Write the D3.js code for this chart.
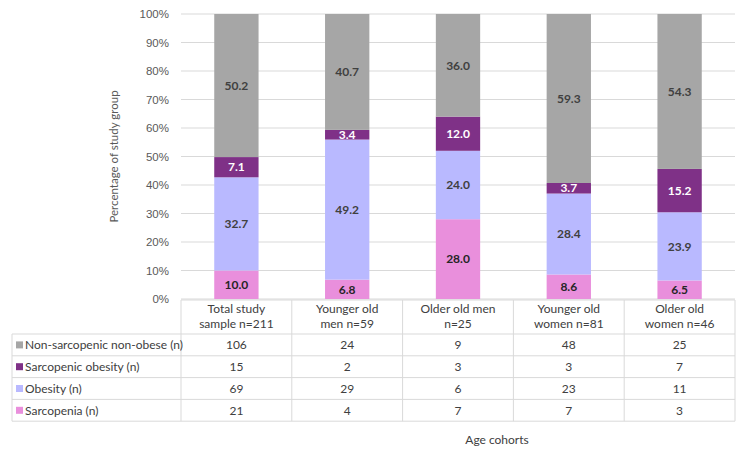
<!DOCTYPE html>
<html>
<head>
<meta charset="utf-8">
<script src="https://cdn.jsdelivr.net/npm/d3@7"></script>
<style>
  body { margin: 0; background: #fff; }
  svg { font-family: Lato, "Open Sans", sans-serif; }
  .grid line { stroke: #d9d9d9; }
  .tick-label { fill: #595959; font-size: 11.5px; }
  .cell { fill: #404040; font-size: 12px; }
</style>
</head>
<body>
<svg id="chart" width="747" height="460"></svg>
<script>
const cohorts = ['Total study sample n=211', 'Younger old men n=59', 'Older old men n=25', 'Younger old women n=81', 'Older old women n=46'];
const cohortLines = [
    ['Total study', 'sample n=211'],
    ['Younger old', 'men n=59'],
    ['Older old men', 'n=25'],
    ['Younger old', 'women n=81'],
    ['Older old', 'women n=46']
];

// percentages, bottom to top
const sarcopeniaPct = [10.0, 6.8, 28.0, 8.6, 6.5];
const obesityPct = [32.7, 49.2, 24.0, 28.4, 23.9];
const sarcObesityPct = [7.1, 3.4, 12.0, 3.7, 15.2];
const nonSarcPct = [50.2, 40.7, 36.0, 59.3, 54.3];

// counts for the data table
const nonSarcN = [106, 24, 9, 48, 25];
const sarcObesityN = [15, 2, 3, 3, 7];
const obesityN = [69, 29, 6, 23, 11];
const sarcopeniaN = [21, 4, 7, 7, 3];

const yTicks = [0, 0.1, 0.2, 0.3, 0.4, 0.5, 0.6, 0.7, 0.8, 0.9, 1];

const series = [
    { key: 'sarc', label: 'Sarcopenia (n)', pct: sarcopeniaPct, n: sarcopeniaN, color: '#e98fdc', text: '#262626' },
    { key: 'ob', label: 'Obesity (n)', pct: obesityPct, n: obesityN, color: '#b9b9ff', text: '#404040' },
    { key: 'so', label: 'Sarcopenic obesity (n)', pct: sarcObesityPct, n: sarcObesityN, color: '#7f3187', text: '#ffffff' },
    { key: 'ns', label: 'Non-sarcopenic non-obese (n)', pct: nonSarcPct, n: nonSarcN, color: '#a6a6a6', text: '#404040' }
];

const margins = { top: 14, left: 181, right: 12 };
const width = 747 - margins.left - margins.right;
const height = 299 - margins.top;

const svg = d3.select('#chart');
const g = svg.append('g').attr('transform', `translate(${margins.left},${margins.top})`);

const x = d3.scaleBand().domain(cohorts).range([0, width]).paddingInner(0.6).paddingOuter(0.3);
const xCol = d3.scaleBand().domain(cohorts).range([0, width]);
const y = d3.scaleLinear().domain([0, 1]).range([height, 0]);

// gridlines
g.append('g').attr('class', 'grid')
    .selectAll('line').data(yTicks).join('line')
    .attr('x1', 0).attr('x2', width)
    .attr('y1', (d) => y(d)).attr('y2', (d) => y(d));

// y axis labels
const yAxis = g.append('g').call(d3.axisLeft(y).tickValues(yTicks).tickFormat(d3.format('.0%')).tickSize(0).tickPadding(12));
yAxis.select('.domain').remove();
yAxis.selectAll('text').attr('class', 'tick-label').attr('font-family', null).attr('font-size', null);

svg.append('text')
    .attr('transform', `translate(118,${margins.top + height / 2}) rotate(-90)`)
    .attr('text-anchor', 'middle')
    .attr('fill', '#595959')
    .attr('font-size', 11.5)
    .text('Percentage of study group');

// stacked bars
const table = cohorts.map((c, i) => {
    const row = { cohort: c };
    series.forEach((s) => { row[s.key] = s.pct[i]; });
    return row;
});
const stacked = d3.stack().keys(series.map((s) => s.key)).offset(d3.stackOffsetExpand)(table);

stacked.forEach((layer, li) => {
    const s = series[li];
    const lg = g.append('g');
    lg.selectAll('rect').data(layer).join('rect')
        .attr('x', (d) => x(d.data.cohort))
        .attr('width', x.bandwidth())
        .attr('y', (d) => y(d[1]))
        .attr('height', (d) => y(d[0]) - y(d[1]))
        .attr('fill', s.color);
    lg.selectAll('text').data(layer).join('text')
        .attr('x', (d) => x(d.data.cohort) + x.bandwidth() / 2)
        .attr('y', (d) => (y(d[0]) + y(d[1])) / 2)
        .attr('dy', '0.35em')
        .attr('text-anchor', 'middle')
        .attr('font-weight', 'bold')
        .attr('font-size', 12)
        .attr('fill', s.text)
        .text((d) => d3.format('.1f')(d.data[s.key]));
});

// data table
const tableTop = 300;
const headerH = 34;
const rowH = 21.8;
const legendLeft = 12;
const tg = svg.append('g').attr('transform', `translate(${margins.left},0)`);
const rows = series.slice().reverse();
const tableBottom = tableTop + headerH + rows.length * rowH;

const border = '#d9d9d9';
// horizontal lines
const hLines = [tableTop].concat(d3.range(rows.length + 1).map((i) => tableTop + headerH + i * rowH));
svg.append('g').selectAll('line').data(hLines).join('line')
    .attr('x1', (d, i) => i === 0 ? margins.left : legendLeft)
    .attr('x2', margins.left + width)
    .attr('y1', (d) => d).attr('y2', (d) => d)
    .attr('stroke', border);
// vertical lines
svg.append('line')
    .attr('x1', legendLeft).attr('x2', legendLeft)
    .attr('y1', tableTop + headerH).attr('y2', tableBottom)
    .attr('stroke', border);
tg.selectAll('line.col').data(cohorts.concat(['end'])).join('line')
    .attr('class', 'col')
    .attr('x1', (d, i) => i * xCol.bandwidth())
    .attr('x2', (d, i) => i * xCol.bandwidth())
    .attr('y1', tableTop).attr('y2', tableBottom)
    .attr('stroke', border);

// header text
tg.selectAll('text.head').data(cohortLines).join('text')
    .attr('class', 'cell')
    .attr('text-anchor', 'middle')
    .attr('x', (d, i) => xCol(cohorts[i]) + xCol.bandwidth() / 2)
    .attr('y', tableTop + 13)
    .selectAll('tspan').data((d) => d).join('tspan')
    .attr('x', function () { return this.parentNode.getAttribute('x'); })
    .attr('dy', (d, i) => i === 0 ? 0 : 15)
    .text((d) => d);

rows.forEach((s, ri) => {
    const cy = tableTop + headerH + ri * rowH + rowH / 2;
    svg.append('rect')
        .attr('x', 16).attr('y', cy - 3.5)
        .attr('width', 7).attr('height', 7)
        .attr('fill', s.color);
    svg.append('text')
        .attr('class', 'cell')
        .attr('x', 25).attr('y', cy).attr('dy', '0.35em')
        .text(s.label);
    tg.selectAll(`text.v-${s.key}`).data(s.n).join('text')
        .attr('class', `cell v-${s.key}`)
        .attr('text-anchor', 'middle')
        .attr('x', (d, i) => xCol(cohorts[i]) + xCol.bandwidth() / 2)
        .attr('y', cy).attr('dy', '0.35em')
        .text((d) => d);
});

svg.append('text')
    .attr('class', 'cell')
    .attr('fill', '#404040')
    .attr('x', 497).attr('y', 444)
    .attr('text-anchor', 'middle')
    .text('Age cohorts');
</script>
</body>
</html>
